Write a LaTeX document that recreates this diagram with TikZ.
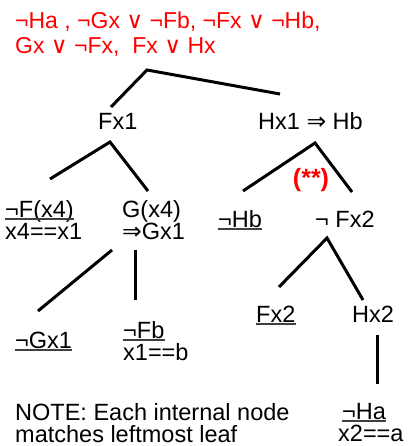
\documentclass[tikz,border=0pt]{standalone}
\usepackage{fontspec}
\setmainfont{Liberation Sans}
\newfontfamily\symf{DejaVu Sans}
\newcommand{\myor}{{\symf\char"2228}}
\newcommand{\myimpl}{{\symf\char"21D2}}
\begin{document}
\begin{tikzpicture}[x=1pt,y=-1pt,
  lbl/.style={anchor=base west,inner sep=0pt,font=\fontsize{23.5}{27}\selectfont},
  redlbl/.style={lbl,text=red,font=\fontsize{23}{27}\selectfont},
  edge/.style={line width=3pt,black},
  uline/.style={line width=1.3pt,black!75}]
\useasboundingbox (0,0) rectangle (408,446);
% heading clauses
\node[redlbl] (c1) at (15,29) {¬Ha , ¬Gx \myor{} ¬Fb, ¬Fx \myor{} ¬Hb,};
\node[redlbl] (c2) at (15,54) {Gx \myor{} ¬Fx,\ \ Fx \myor{} Hx};
% level 1
\node[lbl] (fx1) at (98,130) {Fx1};
\node[lbl] (hx1) at (258,130) {Hx1 \myimpl{} Hb};
% level 2
\node[lbl] (nf4) at (5,217) {¬F(x4)};
\node[lbl] (e41) at (5,239) {x4==x1};
\node[lbl] (g4) at (122,217) {G(x4)};
\node[lbl] (gx1) at (122,239) {\myimpl Gx1};
\node[lbl] (nhb) at (218,227) {¬Hb};
\node[lbl] (nfx2) at (315,227) {¬ Fx2};
\node[anchor=center,inner sep=0pt,text=red,font=\fontsize{25}{28}\selectfont\bfseries] (star) at (311,180) {(**)};
% level 3
\node[lbl] (ngx1) at (15,348) {¬Gx1};
\node[lbl] (nfb) at (123,338) {¬Fb};
\node[lbl] (e1b) at (123,360) {x1==b};
\node[lbl] (fx2) at (256,322) {Fx2};
\node[lbl] (hx2) at (352,322) {Hx2};
% level 4
\node[lbl] (nha) at (342,419) {¬Ha};
\node[lbl] (e2a) at (338,441) {x2==a};
% note
\node[lbl] (note1) at (15,420) {NOTE: Each internal node};
\node[lbl] (note2) at (15,442) {matches leftmost leaf};
% underlines
\foreach \n in {nf4,nhb,ngx1,nfb,fx2,nha}{
  \draw[uline] ([yshift=-2pt]\n.base west) -- ([yshift=-2pt]\n.base east);
}
% connector points
\coordinate (r0) at (147,70);
\coordinate (r1) at (111,107);
\coordinate (r2) at (280,94);
\coordinate (f0) at (110,142);
\coordinate (f1) at (50,179);
\coordinate (f2) at (148,191);
\coordinate (h0) at (315,143);
\coordinate (h1) at (243,191);
\coordinate (h2) at (352,192);
\coordinate (g0) at (112,250);
\coordinate (g1) at (38,311);
\coordinate (v0) at (135,250);
\coordinate (v1) at (135,300);
\coordinate (k0) at (327,238);
\coordinate (k1) at (279,287);
\coordinate (k2) at (363,300);
\coordinate (m0) at (377,335);
\coordinate (m1) at (377,384);
\draw[edge] (r1) -- (r0) -- (r2);
\draw[edge] (f1) -- (f0) -- (f2);
\draw[edge] (h1) -- (h0) -- (h2);
\draw[edge] (g0) -- (g1);
\draw[edge] (v0) -- (v1);
\draw[edge] (k1) -- (k0) -- (k2);
\draw[edge] (m0) -- (m1);
\end{tikzpicture}
\end{document}
